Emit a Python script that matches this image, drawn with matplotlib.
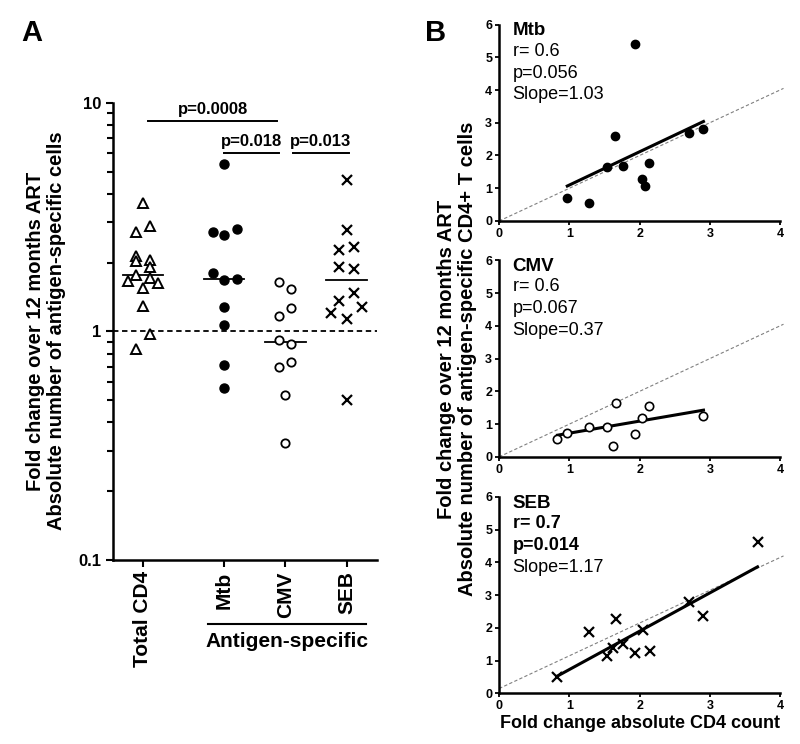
import numpy as np
import matplotlib.pyplot as plt
from matplotlib import transforms

plt.rcParams['font.family'] = ['Liberation Sans', 'DejaVu Sans']

# ---- panel A: fold change, log scale ----
groups = ['Total CD4', 'Mtb', 'CMV', 'SEB']
group_pos = [0, 1.32, 2.32, 3.32]

total_cd4 = [3.66, 2.90, 2.71, 2.14, 2.04, 2.06, 1.92, 1.77, 1.66, 1.71, 1.63, 1.55, 1.29, 0.975, 0.84]
total_jit = [0, 0.12, -0.12, -0.12, -0.12, 0.12, 0.12, -0.12, -0.24, 0.12, 0.25, 0, 0, 0.12, -0.12]
mtb = [5.41, 2.72, 2.63, 2.81, 1.81, 1.68, 1.69, 1.28, 1.07, 0.711, 0.568]
mtb_jit = [0, -0.18, 0, 0.21, -0.18, 0, 0.21, 0, 0, 0, 0]
cmv = [1.65, 1.53, 1.26, 1.17, 0.918, 0.882, 0.701, 0.733, 0.527, 0.324]
cmv_jit = [-0.1, 0.09, 0.09, -0.1, -0.1, 0.09, -0.1, 0.09, 0, 0]
seb = [4.57, 2.78, 2.26, 2.33, 1.91, 1.87, 1.47, 1.36, 1.21, 1.28, 1.13, 0.501]
seb_jit = [0, 0, -0.13, 0.12, -0.13, 0.12, 0.12, -0.13, -0.255, 0.245, 0, 0]

# p-value brackets: (x start, x end, y, label)
brackets = [(0.09, 2.19, 8.34, 'p=0.0008'),
            (1.32, 2.22, 6.02, 'p=0.018'),
            (2.44, 3.35, 6.02, 'p=0.013')]

# ---- panel B: correlation with CD4 fold change ----
b_names = ['Mtb', 'CMV', 'SEB']
b_x = [[0.97, 1.28, 1.54, 1.65, 1.77, 1.93, 2.03, 2.07, 2.14, 2.70, 2.91],
       [0.83, 0.97, 1.28, 1.54, 1.62, 1.66, 1.93, 2.03, 2.14, 2.91],
       [0.83, 1.28, 1.54, 1.62, 1.66, 1.77, 1.93, 2.05, 2.15, 2.70, 2.91, 3.68]]
b_y = [[0.70, 0.56, 1.66, 2.61, 1.68, 5.41, 1.27, 1.06, 1.78, 2.70, 2.80],
       [0.53, 0.74, 0.91, 0.92, 0.33, 1.65, 0.70, 1.19, 1.54, 1.26],
       [0.51, 1.89, 1.15, 1.38, 2.28, 1.50, 1.23, 1.93, 1.31, 2.79, 2.35, 4.62]]
b_r = ['r= 0.6', 'r= 0.6', 'r= 0.7']
b_p = ['p=0.056', 'p=0.067', 'p=0.014']
b_slope = ['Slope=1.03', 'Slope=0.37', 'Slope=1.17']
b_ref_icpt = [0, 0, 0.15]

fig = plt.figure(figsize=(8, 7.44), dpi=100)

# ================= panel A =================
axA = fig.add_axes([0.141, 0.247, 0.330, 0.615])
axA.set_yscale('log')
axA.set_ylim(0.1, 10)
axA.set_xlim(-0.49, 3.81)

styles = [dict(marker='^', ms=7.5, mfc='white', mec='black', mew=1.4),
          dict(marker='o', ms=6.5, mfc='black', mec='black', mew=1),
          dict(marker='o', ms=6, mfc='white', mec='black', mew=1.3),
          dict(marker='x', ms=7, mec='black', mew=1.6)]
datasets = [(total_cd4, total_jit), (mtb, mtb_jit), (cmv, cmv_jit), (seb, seb_jit)]

axA.axhline(1, color='black', ls=(0, (3, 2)), lw=1.3, zorder=1)
for (vals, jit), pos, st in zip(datasets, group_pos, styles):
    xs = pos + np.array(jit)
    axA.plot(xs, vals, ls='none', zorder=3, **st)
    med = np.median(vals)
    axA.plot([pos - 0.33, pos + 0.33], [med, med], color='black', lw=1.3, zorder=2)

for x0, x1, y, lab in brackets:
    axA.plot([x0, x1], [y, y], color='black', lw=1.4, clip_on=False)
    axA.text((x0 + x1) / 2, y * 1.04, lab, ha='center', va='bottom',
             fontsize=12, fontweight='bold')

axA.set_yticks([0.1, 1, 10])
axA.set_yticklabels(['0.1', '1', '10'])
axA.set_xticks(group_pos)
axA.set_xticklabels(groups, rotation=90, fontsize=15, fontweight='bold')
for lbl in axA.get_yticklabels():
    lbl.set_fontweight('bold')
    lbl.set_fontsize(12)
axA.tick_params(axis='both', which='both', direction='out', width=1.5, length=5, pad=3)
axA.tick_params(axis='y', which='minor', length=4)
for s in ['top', 'right']:
    axA.spines[s].set_visible(False)
for s in ['left', 'bottom']:
    axA.spines[s].set_linewidth(1.8)

trans = transforms.blended_transform_factory(axA.transData, axA.transAxes)
axA.plot([1.06, 3.63], [-0.1385, -0.1385], color='black', lw=1.5,
         transform=trans, clip_on=False)
axA.text(2.34, -0.177, 'Antigen-specific', transform=trans, ha='center', va='center',
         fontsize=15, fontweight='bold')

fig.text(46 / 800, 1 - 331 / 744,
         'Fold change over 12 months ART\nAbsolute number of antigen-specific cells',
         rotation=90, ha='center', va='center', fontsize=14.5, fontweight='bold',
         linespacing=1.1)
fig.text(32 / 800, 1 - 33 / 744, 'A', fontsize=21, fontweight='bold', ha='center', va='center')

# ================= panel B =================
b_bottoms = [0.703, 0.386, 0.068]
b_markers = [dict(marker='o', ms=6, mfc='black', mec='black', mew=1),
             dict(marker='o', ms=6, mfc='white', mec='black', mew=1.2),
             dict(marker='x', ms=7, mec='black', mew=1.6)]

for i in range(3):
    ax = fig.add_axes([0.624, b_bottoms[i], 0.351, 0.264])
    ax.set_xlim(0, 4)
    ax.set_ylim(0, 6)
    xr = np.array([0, 4.05])
    ax.plot(xr, xr + b_ref_icpt[i], color='grey', ls=(0, (3, 2)), lw=0.8, clip_on=False, zorder=1)
    ax.plot(b_x[i], b_y[i], ls='none', zorder=3, **b_markers[i])
    k, c = np.polyfit(b_x[i], b_y[i], 1)
    fx = np.array([min(b_x[i]), max(b_x[i])])
    ax.plot(fx, k * fx + c, color='black', lw=2.2, zorder=2)

    bold_stats = 'bold' if i == 2 else 'normal'
    ax.text(0.048, 0.968, b_names[i], transform=ax.transAxes, fontsize=13.5,
            fontweight='bold', va='center', ha='left')
    ax.text(0.048, 0.865, b_r[i], transform=ax.transAxes, fontsize=13,
            fontweight=bold_stats, va='center', ha='left')
    ax.text(0.048, 0.753, b_p[i], transform=ax.transAxes, fontsize=13,
            fontweight=bold_stats, va='center', ha='left')
    ax.text(0.048, 0.643, b_slope[i], transform=ax.transAxes, fontsize=13,
            va='center', ha='left')

    ax.set_xticks([0, 1, 2, 3, 4])
    ax.set_yticks([0, 1, 2, 3, 4, 5, 6])
    ax.tick_params(direction='out', width=1.3, length=3, pad=2, labelsize=9)
    for lbl in ax.get_xticklabels() + ax.get_yticklabels():
        lbl.set_fontweight('bold')
    for s in ['top', 'right']:
        ax.spines[s].set_visible(False)
    for s in ['left', 'bottom']:
        ax.spines[s].set_linewidth(1.8)
    if i == 2:
        ax.set_xlabel('Fold change absolute CD4 count', fontsize=13, fontweight='bold',
                      labelpad=2)

fig.text(457 / 800, 1 - 359 / 744,
         'Fold change over 12 months ART\nAbsolute number of antigen-specific CD4+ T cells',
         rotation=90, ha='center', va='center', fontsize=14.5, fontweight='bold',
         linespacing=1.1)
fig.text(436 / 800, 1 - 33 / 744, 'B', fontsize=21, fontweight='bold', ha='center', va='center')

fig.savefig('out.png', dpi=100)
